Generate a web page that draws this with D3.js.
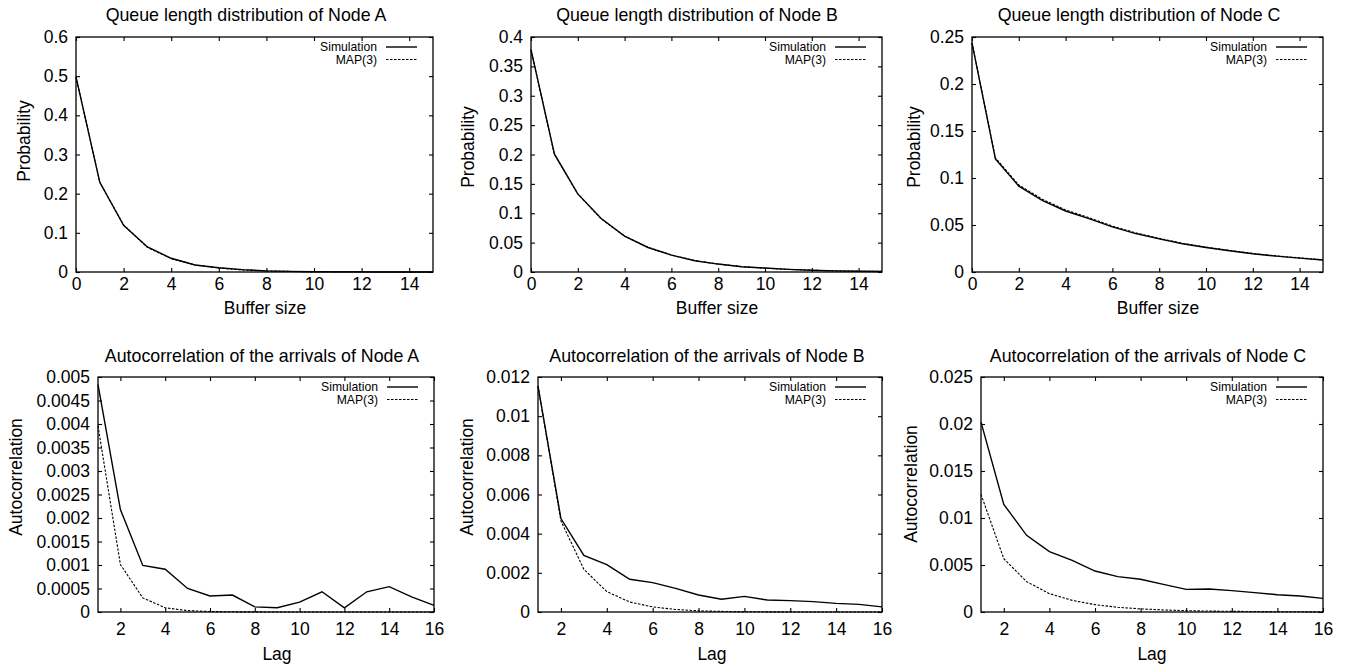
<!DOCTYPE html>
<html>
<head>
<meta charset="utf-8">
<script src="https://cdn.jsdelivr.net/npm/d3@7"></script>
<style>
  body { margin: 0; background: #fff; }
  text { font-family: "Liberation Sans", Arial, sans-serif; fill: #000; }
</style>
</head>
<body>
<div id="chart"></div>
<script>
// Data
const bufferSize = [0, 1, 2, 3, 4, 5, 6, 7, 8, 9, 10, 11, 12, 13, 14, 15];
const lags = [1, 2, 3, 4, 5, 6, 7, 8, 9, 10, 11, 12, 13, 14, 15, 16];

const queueA_sim = [0.498, 0.229, 0.119, 0.064, 0.035, 0.018, 0.011, 0.006, 0.003, 0.0015, 0.0008, 0.0004, 0.0002, 0.0001, 0.00005, 0.00003];
const queueA_map = [0.498, 0.229, 0.120, 0.063, 0.034, 0.018, 0.010, 0.005, 0.0027, 0.0014, 0.0007, 0.0004, 0.0002, 0.0001, 0.00005, 0.00003];
const queueB_sim = [0.3786, 0.201, 0.133, 0.091, 0.061, 0.0417, 0.0288, 0.0192, 0.0135, 0.009, 0.0068, 0.0045, 0.003, 0.002, 0.0013, 0.0009];
const queueB_map = [0.378, 0.200, 0.133, 0.0905, 0.061, 0.042, 0.029, 0.0195, 0.0135, 0.0093, 0.0064, 0.0044, 0.003, 0.002, 0.0014, 0.001];
const queueC_sim = [0.2437, 0.1202, 0.0913, 0.0762, 0.0649, 0.0568, 0.048, 0.0409, 0.0353, 0.030, 0.0261, 0.0226, 0.0194, 0.0169, 0.0148, 0.0127];
const queueC_map = [0.2437, 0.1215, 0.0925, 0.0775, 0.066, 0.0578, 0.0488, 0.0416, 0.0358, 0.0305, 0.0265, 0.023, 0.0197, 0.0171, 0.015, 0.0129];

const acfA_sim = [0.00484, 0.00218, 0.00099, 0.00091, 0.0005, 0.00034, 0.00036, 0.00011, 0.00009, 0.00021, 0.00043, 0.00009, 0.00043, 0.00054, 0.00032, 0.00014];
const acfA_map = [0.00396, 0.00101, 0.0003, 0.00009, 0.00003, 0.00001, 0.000004, 0.000002, 0.000001, 0, 0, 0, 0, 0, 0, 0];
const acfB_sim = [0.01154, 0.00477, 0.00289, 0.00242, 0.00167, 0.0015, 0.00121, 0.00087, 0.00065, 0.0008, 0.00061, 0.00058, 0.00053, 0.00044, 0.00039, 0.00026];
const acfB_map = [0.01154, 0.00465, 0.00218, 0.00104, 0.00051, 0.00026, 0.00013, 0.00006, 0.00003, 0.000015, 0.000008, 0.000004, 0.000002, 0.000001, 0, 0];
const acfC_sim = [0.0202, 0.01145, 0.00816, 0.00642, 0.0055, 0.00436, 0.00376, 0.00348, 0.00294, 0.00241, 0.00245, 0.00227, 0.00206, 0.00184, 0.0017, 0.00145];
const acfC_map = [0.01252, 0.00567, 0.00323, 0.00195, 0.00124, 0.00078, 0.0005, 0.00033, 0.00022, 0.00014, 0.0001, 0.00007, 0.00005, 0.00003, 0.00002, 0.00001];

// Tick values
const bufTicks = [0, 2, 4, 6, 8, 10, 12, 14];
const lagTicks = [2, 4, 6, 8, 10, 12, 14, 16];
const yTicksQA = [0, 0.1, 0.2, 0.3, 0.4, 0.5, 0.6];
const yTicksQB = [0, 0.05, 0.1, 0.15, 0.2, 0.25, 0.3, 0.35, 0.4];
const yTicksQC = [0, 0.05, 0.1, 0.15, 0.2, 0.25];
const yTicksAA = [0, 0.0005, 0.001, 0.0015, 0.002, 0.0025, 0.003, 0.0035, 0.004, 0.0045, 0.005];
const yTicksAB = [0, 0.002, 0.004, 0.006, 0.008, 0.01, 0.012];
const yTicksAC = [0, 0.005, 0.01, 0.015, 0.02, 0.025];

const seriesNames = ["Simulation", "MAP(3)"];

// Panel layout
const panels = [
  {title: "Queue length distribution of Node A", xs: bufferSize, sim: queueA_sim, map: queueA_map,
   xDomain: [0, 15], xTicks: bufTicks, yDomain: [0, 0.6], yTicks: yTicksQA,
   xlabel: "Buffer size", ylabel: "Probability",
   left: 76, right: 433, top: 37, bottom: 272, titleX: 246, titleY: 21, xlabX: 265, xlabY: 314, ylabX: 24, ylabY: 141, xPad: 6},
  {title: "Queue length distribution of Node B", xs: bufferSize, sim: queueB_sim, map: queueB_map,
   xDomain: [0, 15], xTicks: bufTicks, yDomain: [0, 0.4], yTicks: yTicksQB,
   xlabel: "Buffer size", ylabel: "Probability",
   left: 531, right: 882, top: 37, bottom: 272, titleX: 697, titleY: 21, xlabX: 717, xlabY: 314, ylabX: 468, ylabY: 147, xPad: 6},
  {title: "Queue length distribution of Node C", xs: bufferSize, sim: queueC_sim, map: queueC_map,
   xDomain: [0, 15], xTicks: bufTicks, yDomain: [0, 0.25], yTicks: yTicksQC,
   xlabel: "Buffer size", ylabel: "Probability",
   left: 972, right: 1323, top: 37, bottom: 272, titleX: 1139, titleY: 21, xlabX: 1158, xlabY: 314, ylabX: 914, ylabY: 147, xPad: 6},
  {title: "Autocorrelation of the arrivals of Node A", xs: lags, sim: acfA_sim, map: acfA_map,
   xDomain: [1, 16], xTicks: lagTicks, yDomain: [0, 0.005], yTicks: yTicksAA,
   xlabel: "Lag", ylabel: "Autocorrelation",
   left: 98, right: 434, top: 377, bottom: 612, titleX: 262, titleY: 362, xlabX: 277, xlabY: 660, ylabX: 16, ylabY: 477, xPad: 11},
  {title: "Autocorrelation of the arrivals of Node B", xs: lags, sim: acfB_sim, map: acfB_map,
   xDomain: [1, 16], xTicks: lagTicks, yDomain: [0, 0.012], yTicks: yTicksAB,
   xlabel: "Lag", ylabel: "Autocorrelation",
   left: 538, right: 882, top: 377, bottom: 612, titleX: 707, titleY: 362, xlabX: 712, xlabY: 660, ylabX: 467, ylabY: 477, xPad: 11},
  {title: "Autocorrelation of the arrivals of Node C", xs: lags, sim: acfC_sim, map: acfC_map,
   xDomain: [1, 16], xTicks: lagTicks, yDomain: [0, 0.025], yTicks: yTicksAC,
   xlabel: "Lag", ylabel: "Autocorrelation",
   left: 981, right: 1323, top: 377, bottom: 612, titleX: 1148, titleY: 362, xlabX: 1152, xlabY: 660, ylabX: 911, ylabY: 484, xPad: 11}
];

const svg = d3.select("#chart").append("svg")
  .attr("width", 1348)
  .attr("height", 668);

function styleAxis(g) {
  g.select(".domain").remove();
  g.selectAll("line").attr("stroke", "#000").attr("stroke-width", 1.1);
  g.selectAll("text")
    .attr("font-family", "'Liberation Sans', Arial, sans-serif")
    .attr("font-size", 17.5)
    .attr("fill", "#000");
}

panels.forEach(function(p) {
  let x = d3.scaleLinear().domain(p.xDomain).range([p.left, p.right]);
  let y = d3.scaleLinear().domain(p.yDomain).range([p.bottom, p.top]);
  let g = svg.append("g");

  // Axes with inward ticks, mirrored on top and right
  g.append("g")
    .attr("transform", "translate(0," + p.bottom + ")")
    .call(d3.axisBottom(x).tickValues(p.xTicks).tickFormat(d => String(d)).tickSizeInner(-4).tickSizeOuter(0).tickPadding(p.xPad))
    .call(styleAxis);
  g.append("g")
    .attr("transform", "translate(0," + p.top + ")")
    .call(d3.axisTop(x).tickValues(p.xTicks).tickFormat("").tickSizeInner(-4).tickSizeOuter(0))
    .call(styleAxis);
  g.append("g")
    .attr("transform", "translate(" + p.left + ",0)")
    .call(d3.axisLeft(y).tickValues(p.yTicks).tickFormat(d => String(d)).tickSizeInner(-4).tickSizeOuter(0).tickPadding(8))
    .call(styleAxis);
  g.append("g")
    .attr("transform", "translate(" + p.right + ",0)")
    .call(d3.axisRight(y).tickValues(p.yTicks).tickFormat("").tickSizeInner(-4).tickSizeOuter(0))
    .call(styleAxis);

  // Frame
  g.append("rect")
    .attr("x", p.left)
    .attr("y", p.top)
    .attr("width", p.right - p.left)
    .attr("height", p.bottom - p.top)
    .attr("fill", "none")
    .attr("stroke", "#000")
    .attr("stroke-width", 1.3);

  // Lines
  let line = d3.line()
    .x((d, i) => x(p.xs[i]))
    .y(d => y(d));

  g.append("path")
    .datum(p.map)
    .attr("d", line)
    .attr("fill", "none")
    .attr("stroke", "#000")
    .attr("stroke-width", 1.1)
    .attr("stroke-dasharray", "2.5,1.5");

  g.append("path")
    .datum(p.sim)
    .attr("d", line)
    .attr("fill", "none")
    .attr("stroke", "#000")
    .attr("stroke-width", 1.4);

  // Legend
  seriesNames.forEach(function(name, i) {
    let ly = p.top + 10 + i * 12.5;
    g.append("text")
      .attr("x", p.right - 56)
      .attr("y", ly)
      .attr("dy", "0.35em")
      .attr("text-anchor", "end")
      .attr("font-size", 12.2)
      .text(name);
    g.append("line")
      .attr("x1", p.right - 47)
      .attr("x2", p.right - 16)
      .attr("y1", ly)
      .attr("y2", ly)
      .attr("stroke", "#000")
      .attr("stroke-width", i == 0 ? 1.4 : 1.1)
      .attr("stroke-dasharray", i == 0 ? null : "2.5,1.5");
  });

  // Title and axis labels
  g.append("text")
    .attr("x", p.titleX)
    .attr("y", p.titleY)
    .attr("text-anchor", "middle")
    .attr("font-size", 17.8)
    .text(p.title);

  g.append("text")
    .attr("x", p.xlabX)
    .attr("y", p.xlabY)
    .attr("text-anchor", "middle")
    .attr("font-size", 17.5)
    .text(p.xlabel);

  g.append("text")
    .attr("text-anchor", "middle")
    .attr("transform", "translate(" + p.ylabX + "," + p.ylabY + ")rotate(-90)")
    .attr("dy", "0.35em")
    .attr("font-size", 17.5)
    .text(p.ylabel);
});
</script>
</body>
</html>
